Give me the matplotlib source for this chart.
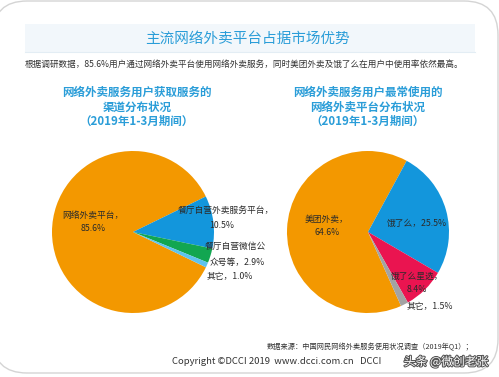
import matplotlib
matplotlib.use("Agg")
import matplotlib.pyplot as plt
from matplotlib.patches import FancyBboxPatch, Rectangle
import matplotlib.patheffects as pe

plt.rcParams['font.family'] = ['Noto Sans CJK SC', 'DejaVu Sans']

# data
channel_labels = ["网络外卖平台", "餐厅自营外卖服务平台", "餐厅自营微信公众号等", "其它"]
channel_values = [85.6, 10.5, 2.9, 1.0]
channel_colors = ["#f39800", "#1396dc", "#12a651", "#5ec3ee"]

platform_labels = ["美团外卖", "饿了么", "饿了么星选", "其它"]
platform_values = [64.6, 25.5, 8.4, 1.5]
platform_colors = ["#f39800", "#1396dc", "#ea1450", "#a3a3a3"]

W, H = 499, 377
fig = plt.figure(figsize=(W / 100, H / 100), dpi=100)
bg = fig.add_axes([0, 0, 1, 1])
bg.set_xlim(0, W)
bg.set_ylim(H, 0)
bg.axis("off")

# slide frame
bg.add_patch(FancyBboxPatch((-7, 1), W + 6, H - 5, boxstyle="round,pad=0,rounding_size=34",
                            fc="white", ec="#d4d4d4", lw=1.0, clip_on=False))
# title band
bg.add_patch(Rectangle((25, 24), 450, 28, fc="#f2f7fb", ec="none"))
bg.plot([25, 475], [52, 52], color="#e3edf4", lw=0.8)


def pie_axes(cx, cy, r):
    a = fig.add_axes([(cx - r) / W, (H - cy - r) / H, 2 * r / W, 2 * r / H])
    a.patch.set_visible(False)
    return a


r = 81
ax1 = pie_axes(133, 232, r)
start1 = 26 + 3.6 * channel_values[0]
ax1.pie(channel_values, colors=channel_colors, startangle=start1, counterclock=False,
        wedgeprops=dict(linewidth=0))
ax1.set_xlim(-1, 1)
ax1.set_ylim(-1, 1)

ax2 = pie_axes(368, 232, r)
start2 = 61.5 + 3.6 * platform_values[0]
ax2.pie(platform_values, colors=platform_colors, startangle=start2, counterclock=False,
        wedgeprops=dict(linewidth=0))
ax2.set_xlim(-1, 1)
ax2.set_ylim(-1, 1)

# text overlay on top of the pies
top = fig.add_axes([0, 0, 1, 1])
top.set_xlim(0, W)
top.set_ylim(H, 0)
top.axis("off")
top.patch.set_visible(False)

blue = "#2a9dd8"
top.text(248, 39, "主流网络外卖平台占据市场优势", color=blue, fontsize=10.5,
         ha="center", va="center")
top.text(25, 64, "根据调研数据，85.6%用户通过网络外卖平台使用网络外卖服务，同时美团外卖及饿了么在用户中使用率依然最高。",
         color="#333333", fontsize=6.2, ha="left", va="center")

top.text(137, 107, "网络外卖服务用户获取服务的\n渠道分布状况\n（2019年1-3月期间）", color=blue,
         fontsize=8.3, fontweight="bold", ha="center", va="center", linespacing=1.15)
top.text(368, 107, "网络外卖服务用户最常使用的\n网络外卖平台分布状况\n（2019年1-3月期间）", color=blue,
         fontsize=8.3, fontweight="bold", ha="center", va="center", linespacing=1.15)

lab = dict(color="#2b2b2b", fontsize=6.3, va="center", linespacing=1.5)
top.text(93, 222, f"{channel_labels[0]}，\n{channel_values[0]}%", ha="center", **lab)
top.text(178, 210, f"{channel_labels[1]}，", ha="left", **lab)
top.text(222, 226, f"{channel_values[1]}%", ha="center", **lab)
top.text(205, 246, "餐厅自营微信公", ha="left", **lab)
top.text(210, 262, f"众号等，{channel_values[2]}%", ha="left", **lab)
top.text(207, 277, f"{channel_labels[3]}，{channel_values[3]}%", ha="left", **lab)

top.text(327, 226, f"{platform_labels[0]}，\n{platform_values[0]}%", ha="center", **lab)
top.text(417, 223, f"{platform_labels[1]}，{platform_values[1]}%", ha="center", **lab)
top.text(417, 283, f"{platform_labels[2]}，\n{platform_values[2]}%", ha="center", **lab)
top.text(430, 306, f"{platform_labels[3]}，{platform_values[3]}%", ha="center", **lab)

top.text(473, 347, "数据来源：中国网民网络外卖服务使用状况调查（2019年Q1）；", color="#333333",
         fontsize=5.2, ha="right", va="center")
top.text(172, 362, "Copyright ©DCCI 2019  www.dcci.com.cn   DCCI", color="#333333",
         fontsize=6.8, ha="left", va="center")
top.text(488, 362, "头条 @微创老张", color="white", fontsize=8.5, ha="right", va="center",
         path_effects=[pe.withStroke(linewidth=1.5, foreground="#555555")])

fig.savefig("out.png", dpi=100)
